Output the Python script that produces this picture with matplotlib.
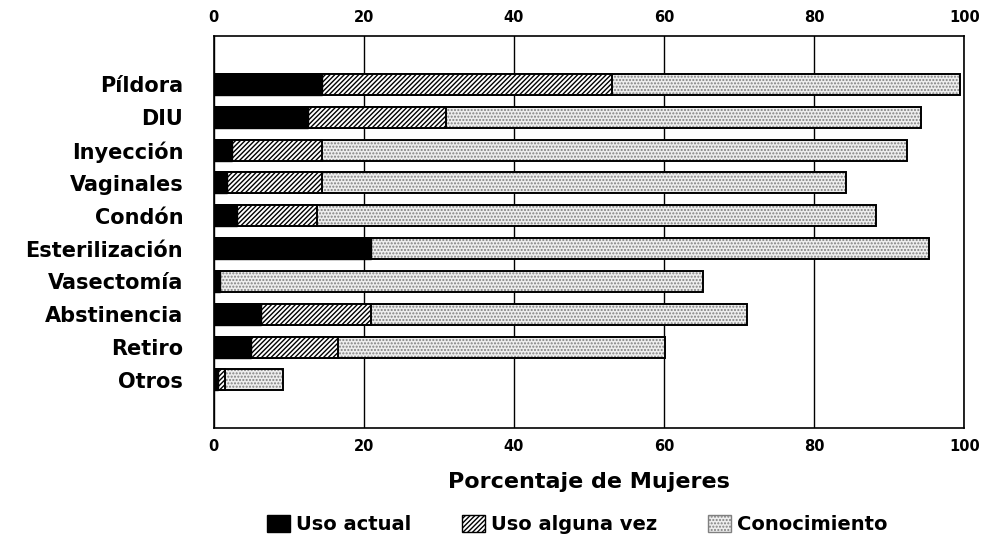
import matplotlib
matplotlib.use("Agg")
import matplotlib.pyplot as plt
from matplotlib.patches import Patch
import numpy as np

plt.rcParams['font.family'] = ['DejaVu Sans']
plt.rcParams['hatch.linewidth'] = 1.0

metodos = ["Píldora", "DIU", "Inyección", "Vaginales", "Condón",
           "Esterilización", "Vasectomía", "Abstinencia", "Retiro", "Otros"]
uso_actual = [14.4, 12.6, 2.4, 1.7, 3.1, 21.0, 0.8, 6.3, 5.0, 0.6]
uso_alguna_vez = [53.0, 30.9, 14.4, 14.4, 13.8, 21.0, 0.8, 20.9, 16.5, 1.5]
conocimiento = [99.4, 94.2, 92.3, 84.2, 88.3, 95.3, 65.2, 71.1, 60.1, 9.2]
xticks = [0, 20, 40, 60, 80, 100]

fig = plt.figure(figsize=(9.85, 5.43), dpi=100)
ax = fig.add_axes([0.217, 0.212, 0.762, 0.722])

y = np.arange(len(metodos))
h = 0.64

# Conocimiento (stippled)
ax.barh(y, conocimiento, height=h, color='#eeeeee', edgecolor='#808080',
        hatch='.....', linewidth=0, zorder=2)
ax.barh(y, conocimiento, height=h, fill=False, edgecolor='black', linewidth=1.4, zorder=3)
# Uso alguna vez (hatched)
ax.barh(y, uso_alguna_vez, height=h, color='white', edgecolor='black',
        hatch='///////', linewidth=1.4, zorder=4)
# Uso actual (black)
ax.barh(y, uso_actual, height=h, color='black', edgecolor='black', linewidth=1.0, zorder=5)

ax.set_xlim(0, 100)
ax.set_ylim(10.46, -1.48)
ax.set_yticks(y)
ax.set_yticklabels(metodos, fontsize=15, fontweight='bold')
ax.set_xticks(xticks)
ax.set_xticklabels([str(v) for v in xticks], fontsize=10.5, fontweight='bold')
ax.tick_params(axis='x', top=True, labeltop=True, bottom=True, labelbottom=True,
               length=0, pad=8)
ax.tick_params(axis='y', length=0, pad=22)
ax.grid(axis='x', color='black', linewidth=1.0, zorder=1)
ax.set_axisbelow(True)
for s in ax.spines.values():
    s.set_linewidth(1.2)

ax.set_xlabel("Porcentaje de Mujeres", fontsize=16, fontweight='bold', labelpad=13)

handles = [
    Patch(facecolor='black', edgecolor='black', label='Uso actual'),
    Patch(facecolor='white', edgecolor='black', hatch='///////', label='Uso alguna vez'),
    Patch(facecolor='#eeeeee', edgecolor='#808080', hatch='.....', label='Conocimiento'),
]
fig.legend(handles=handles, loc='center', bbox_to_anchor=(0.586, 0.034), ncol=3,
           frameon=False, prop={'size': 14, 'weight': 'bold'},
           handlelength=1.2, handleheight=1.0, columnspacing=2.6, handletextpad=0.3)

fig.savefig("out.png", dpi=100)
